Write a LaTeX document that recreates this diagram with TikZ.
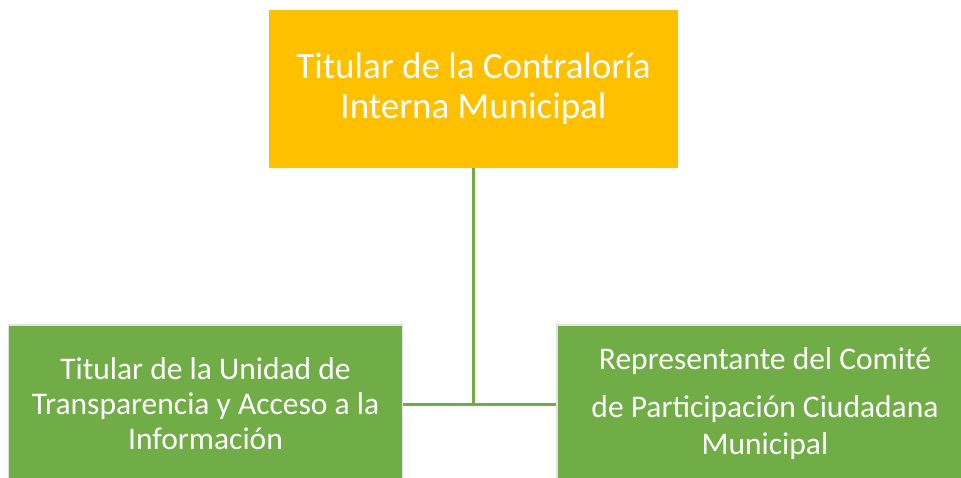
\documentclass[tikz,border=0pt]{standalone}
\usepackage{fontspec}
\setmainfont{Carlito}
\definecolor{gold}{HTML}{FFC000}
\definecolor{leaf}{HTML}{70AD47}
\definecolor{rim}{HTML}{E2E2E2}
\begin{document}
\begin{tikzpicture}[x=1pt,y=-1pt,
  topbox/.style={fill=gold, draw=none, minimum width=409pt, minimum height=158pt, inner sep=0pt, text=white, align=center, font=\fontsize{37}{40}\selectfont},
  subbox/.style={fill=leaf, draw=rim, line width=1.5pt, minimum height=158pt, inner sep=0pt, text=white, align=center},
  link/.style={draw=leaf, line width=3pt}]
\useasboundingbox (0,0) rectangle (961,477);
\node[topbox] (top) at (473.5,89) {Titular de la Contraloría\\Interna Municipal};
\node[subbox, minimum width=394pt, font=\fontsize{31.5}{35}\selectfont] (left) at (205.5,404) {Titular de la Unidad de\\Transparencia y Acceso a la\\Información};
\node[subbox, minimum width=416pt, font=\fontsize{31.5}{37}\selectfont] (right) at (765,404) {Representante del Comité\\[11pt]de Participación Ciudadana\\Municipal};
\draw[link] (top.south) -- (top.south |- left.east);
\draw[link] (left.east) -- (right.west);
\end{tikzpicture}
\end{document}
